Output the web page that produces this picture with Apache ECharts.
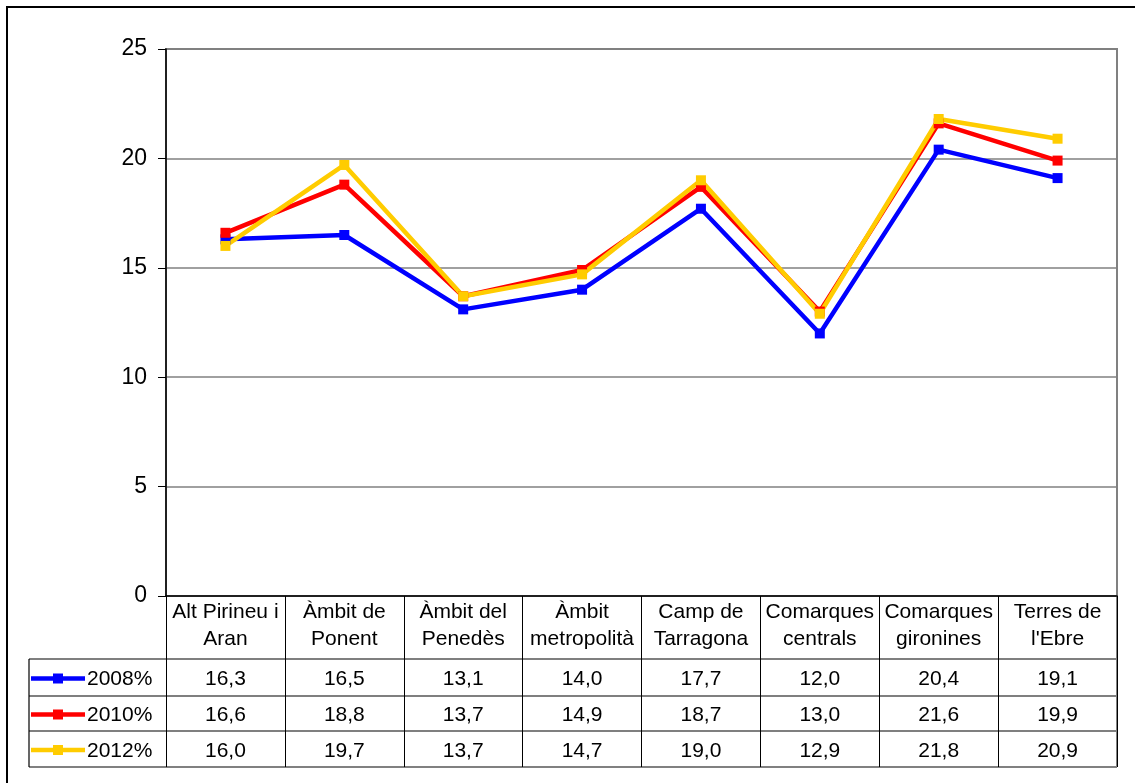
<!DOCTYPE html>
<html>
<head>
<meta charset="utf-8">
<script src="https://cdn.jsdelivr.net/npm/echarts@6/dist/echarts.min.js"></script>
<style>
  html, body { margin: 0; padding: 0; background: #fff; }
  #main { width: 1135px; height: 783px; }
</style>
</head>
<body>
<div id="main"></div>
<script>
// categories (header row of the data table)
var categories = ['Alt Pirineu i\nAran', 'Àmbit de\nPonent', 'Àmbit del\nPenedès', 'Àmbit\nmetropolità',
    'Camp de\nTarragona', 'Comarques\ncentrals', 'Comarques\ngironines', 'Terres de\nl\'Ebre'];
var seriesNames = ['2008%', '2010%', '2012%'];
var v2008 = [16.3, 16.5, 13.1, 14.0, 17.7, 12.0, 20.4, 19.1];
var v2010 = [16.6, 18.8, 13.7, 14.9, 18.7, 13.0, 21.6, 19.9];
var v2012 = [16.0, 19.7, 13.7, 14.7, 19.0, 12.9, 21.8, 20.9];
var yTicks = [0, 5, 10, 15, 20, 25];

var colors = ['#0000ff', '#ff0000', '#ffcc00'];
var values = [v2008, v2010, v2012];

var chart = echarts.init(document.getElementById('main'));

var gridLeft = 166, gridTop = 49, gridW = 951, gridH = 547;
var rowLines = [596, 659, 696, 731, 767];
var font = 'Arial, "Liberation Sans", sans-serif';

var series = [];
for (var i = 0; i < values.length; i++) {
    series.push({
        name: seriesNames[i],
        type: 'line',
        data: values[i],
        symbol: 'rect',
        symbolSize: 10,
        lineStyle: {color: colors[i], width: 4.5},
        itemStyle: {color: colors[i]},
        animation: false
    });
}

chart.setOption({
    backgroundColor: '#fff',
    animation: false,
    grid: {
        left: gridLeft, top: gridTop, width: gridW, height: gridH,
        show: true, borderColor: '#808080', borderWidth: 2
    },
    xAxis: {
        type: 'category',
        data: categories,
        boundaryGap: true,
        axisLine: {lineStyle: {color: '#000', width: 1.5}},
        axisTick: {show: true, length: rowLines[4] - rowLines[0], lineStyle: {color: '#000'}},
        axisLabel: {
            color: '#000', fontSize: 21, fontFamily: font, lineHeight: 27, margin: 3,
            interval: 0
        }
    },
    yAxis: {
        type: 'value',
        min: yTicks[0], max: yTicks[yTicks.length - 1], interval: 5,
        axisLine: {show: true, lineStyle: {color: '#000', width: 1.5}},
        axisTick: {show: true, length: 8, lineStyle: {color: '#000'}},
        axisLabel: {color: '#000', fontSize: 23, fontFamily: font, margin: 19},
        splitLine: {lineStyle: {color: '#808080', width: 1.5}}
    },
    series: series
});

// data table below the plot
var g = [];
// outer chart border
g.push({type: 'rect', shape: {x: 7, y: 7, width: 1140, height: 800},
    style: {fill: null, stroke: '#000', lineWidth: 2}, silent: true});
// horizontal row lines
for (var r = 1; r < rowLines.length; r++) {
    g.push({type: 'line', shape: {x1: 29, y1: rowLines[r], x2: gridLeft + gridW, y2: rowLines[r]},
        style: {stroke: r === rowLines.length - 1 ? '#808080' : '#000', lineWidth: r === rowLines.length - 1 ? 2 : 1.2}});
}
// legend column left edge
g.push({type: 'line', shape: {x1: 29, y1: rowLines[1], x2: 29, y2: rowLines[4]},
    style: {stroke: '#000', lineWidth: 1.2}});
// right edge of table
g.push({type: 'line', shape: {x1: gridLeft + gridW, y1: rowLines[0], x2: gridLeft + gridW, y2: rowLines[4]},
    style: {stroke: '#808080', lineWidth: 2}});

for (var s = 0; s < values.length; s++) {
    var cy = (rowLines[s + 1] + rowLines[s + 2]) / 2;
    // legend key
    g.push({type: 'line', shape: {x1: 31, y1: cy + 1, x2: 85, y2: cy + 1},
        style: {stroke: colors[s], lineWidth: 4.5}});
    g.push({type: 'rect', shape: {x: 53, y: cy - 4, width: 10, height: 10},
        style: {fill: colors[s]}});
    g.push({type: 'text', x: 87, y: cy + 2,
        style: {text: seriesNames[s], fontSize: 21, fontFamily: font, fill: '#000',
            align: 'left', verticalAlign: 'middle'}});
    for (var c = 0; c < categories.length; c++) {
        var px = chart.convertToPixel({xAxisIndex: 0}, c);
        g.push({type: 'text', x: px, y: cy + 2,
            style: {text: values[s][c].toFixed(1).replace('.', ','), fontSize: 21, fontFamily: font,
                fill: '#000', align: 'center', verticalAlign: 'middle'}});
    }
}
chart.setOption({graphic: g});
</script>
</body>
</html>
